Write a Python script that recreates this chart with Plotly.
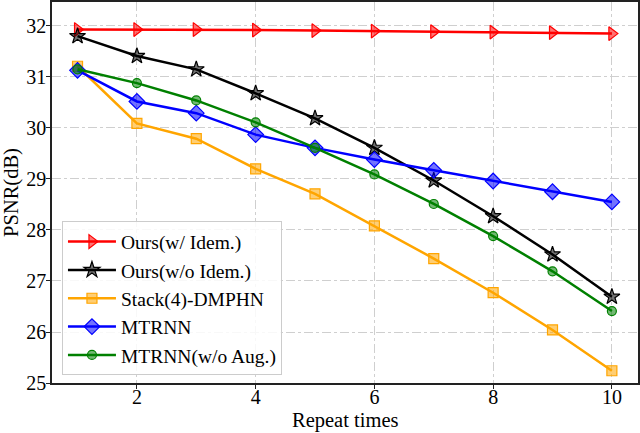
import plotly.graph_objects as go

# ─── data ────────────────────────────────────────────────────
repeat = [1, 2, 3, 4, 5, 6, 7, 8, 9, 10]
ours_idem = [31.93, 31.93, 31.93, 31.92, 31.91, 31.90, 31.89, 31.88, 31.87, 31.85]
ours_no_idem = [31.80, 31.41, 31.15, 30.68, 30.19, 29.61, 28.97, 28.27, 27.52, 26.69]
stack_dmphn = [31.21, 30.09, 29.79, 29.20, 28.71, 28.08, 27.44, 26.77, 26.04, 25.24]
mtrnn = [31.13, 30.52, 30.29, 29.87, 29.61, 29.38, 29.17, 28.96, 28.75, 28.55]
mtrnn_no_aug = [31.15, 30.88, 30.54, 30.11, 29.61, 29.09, 28.51, 27.88, 27.19, 26.41]

series = [
    ("Ours(w/ Idem.)", ours_idem, "#ff0000", "triangle-right", 12),
    ("Ours(w/o Idem.)", ours_no_idem, "#000000", "star", 12),
    ("Stack(4)-DMPHN", stack_dmphn, "#ffa500", "square", 10),
    ("MTRNN", mtrnn, "#0000ff", "diamond", 12),
    ("MTRNN(w/o Aug.)", mtrnn_no_aug, "#008000", "circle", 9),
]

def rgba(hex_col, a):
    h = hex_col.lstrip("#")
    r, g, b = int(h[0:2], 16), int(h[2:4], 16), int(h[4:6], 16)
    return f"rgba({r},{g},{b},{a})"

fig = go.Figure()
for name, vals, col, sym, size in series:
    fig.add_trace(go.Scatter(
        x=repeat, y=vals, name=name, mode="lines+markers",
        line=dict(color=col, width=2.5),
        marker=dict(symbol=sym, size=size, color=rgba(col, 0.55),
                    line=dict(color=col, width=1.2)),
    ))

axis_common = dict(
    showline=True, linecolor="#222222", linewidth=1.5, mirror=True,
    ticks="outside", ticklen=4, tickcolor="#222222",
    showgrid=True, gridcolor="#cfcfcf", griddash="dashdot", gridwidth=1,
    zeroline=False, tickfont=dict(size=20, color="black"), automargin=False,
)

fig.update_xaxes(range=[0.57, 10.44], tickvals=[2, 4, 6, 8, 10],
                 ticklabelstandoff=-9, **axis_common)
fig.update_yaxes(range=[25, 32.47], tickvals=[25, 26, 27, 28, 29, 30, 31, 32],
                 ticklabelstandoff=-4,
                 title=dict(text="PSNR(dB)", font=dict(size=20.5, color="black"), standoff=6),
                 **axis_common)

# x title as an annotation so it sits tight under the tick labels
fig.add_annotation(text="Repeat times", xref="paper", yref="paper", x=0.5, y=0,
                   xanchor="center", yanchor="top", yshift=-24, showarrow=False,
                   font=dict(size=20.5, color="black"))

fig.update_layout(
    width=640, height=433,
    margin=dict(l=52, r=2, t=2, b=50),
    paper_bgcolor="white", plot_bgcolor="white",
    font=dict(family="Liberation Serif, Times New Roman, serif", color="black"),
    legend=dict(x=0.017, y=0.02, xanchor="left", yanchor="bottom",
                bgcolor="rgba(255,255,255,0.85)", bordercolor="#cccccc", borderwidth=1,
                font=dict(size=19.5), itemwidth=48, tracegroupgap=0),
    showlegend=True,
)

# drop the browser's default 8px body margin so the figure fills the window
fig.write_html("out.html", config={"displayModeBar": False},
               post_script="document.body.style.margin='0';document.body.style.overflow='hidden';")
